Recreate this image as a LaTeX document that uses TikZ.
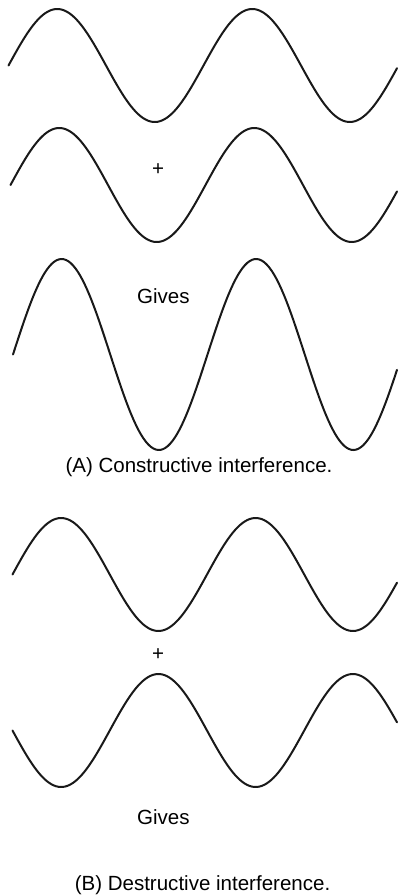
\documentclass[tikz,border=0pt]{standalone}
\usepackage{fontspec}
\setmainfont{Liberation Sans}
\usepackage{tikz}

\begin{document}
\begin{tikzpicture}[
    x=1bp, y=-1bp,
    wave/.style={line width=2bp, draw=black!90, line cap=round},
    lbl/.style={anchor=base, inner sep=0pt, font=\fontsize{20.6}{24}\selectfont},
    caption/.style={lbl}
]
    \useasboundingbox (0,0) rectangle (397,895);

    % (A) two waves in phase and their sum
    \draw [wave] plot[domain=8.5:397, samples=160, smooth] (\x, {65.5-56.5*sin(((\x-8.5)/195)*360)});
    \draw [wave] plot[domain=10.5:397, samples=160, smooth] (\x, {185-57*sin(((\x-10.5)/195)*360)});
    \draw [wave] plot[domain=13:397, samples=160, smooth] (\x, {354.5-95.5*sin(((\x-13)/194.5)*360)});

    \node [lbl] (plusA) at (158,175) {+};
    \node [lbl] (givesA) at (163.3,303) {Gives};
    \node [caption] (capA) at (199,472) {(A) Constructive interference.};

    % (B) two waves out of phase
    \draw [wave] plot[domain=12.5:397, samples=160, smooth] (\x, {574.5-56.5*sin(((\x-12.5)/194.5)*360)});
    \draw [wave] plot[domain=12.5:397, samples=160, smooth] (\x, {730.5+56.5*sin(((\x-12.5)/194.5)*360)});

    \node [lbl] (plusB) at (158,660) {+};
    \node [lbl] (givesB) at (163.3,824) {Gives};
    \node [caption] (capB) at (202.5,890) {(B) Destructive interference.};
\end{tikzpicture}
\end{document}
